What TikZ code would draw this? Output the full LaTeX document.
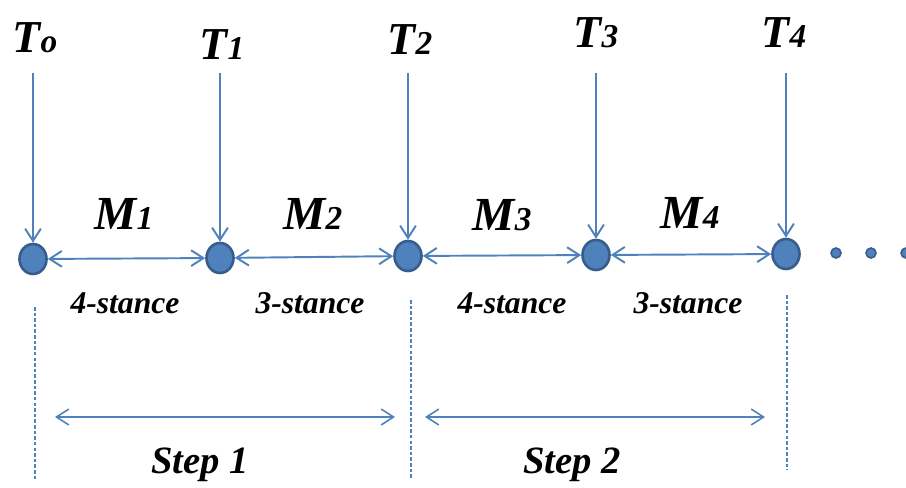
\documentclass[tikz,border=0pt]{standalone}
\usepackage{fontspec}
\setmainfont{Liberation Serif}
\usetikzlibrary{arrows.meta,shapes.geometric}
\definecolor{stblue}{HTML}{4F81BD}
\definecolor{stdark}{HTML}{385D8A}
\newcommand{\idx}[1]{{\fontsize{19}{19}\selectfont #1}}

\begin{document}
\begin{tikzpicture}[x=0.02cm, y=-0.02cm,
    every node/.style={font=\bfseries\itshape},
    tlabel/.style={font=\bfseries\itshape\fontsize{26}{30}\selectfont},
    mlabel/.style={font=\bfseries\itshape\fontsize{27}{30}\selectfont},
    gait/.style={font=\bfseries\itshape\fontsize{18}{20}\selectfont},
    steplabel/.style={font=\bfseries\itshape\fontsize{22}{26}\selectfont},
    joint/.style={ellipse, draw=stdark, line width=1.5pt, fill=stblue, minimum width=0.54cm, minimum height=0.6cm, inner sep=0pt},
    more/.style={circle, draw=stdark, line width=0.9pt, fill=stblue, minimum size=0.2cm, inner sep=0pt},
    drop/.style={stblue, line width=1.1pt, -{Straight Barb[length=7pt,width=9pt]}},
    link/.style={stblue, line width=1.1pt, {Straight Barb[length=7pt,width=9pt]}-{Straight Barb[length=7pt,width=9pt]}},
    span/.style={stblue, line width=0.9pt, {Straight Barb[length=7pt,width=9pt]}-{Straight Barb[length=7pt,width=9pt]}},
    bound/.style={stblue, line width=0.6pt, dash pattern=on 2pt off 1.2pt}]
  \useasboundingbox (0,0) rectangle (906,487);

  \node[joint] (j0) at (33,259) {};
  \node[joint] (j1) at (220,258) {};
  \node[joint] (j2) at (408,256) {};
  \node[joint] (j3) at (596,255) {};
  \node[joint] (j4) at (786,254) {};
  \node[more] (e1) at (836,253) {};
  \node[more] (e2) at (871,253) {};
  \node[more] (e3) at (906,253) {};

  \node[tlabel] (t0) at (35,38) {T\idx{o}};
  \node[tlabel] (t1) at (222,45) {T\idx{1}};
  \node[tlabel] (t2) at (410,40) {T\idx{2}};
  \node[tlabel] (t3) at (596,33) {T\idx{3}};
  \node[tlabel] (t4) at (784,33) {T\idx{4}};
  \coordinate (top) at (0,73);
  \draw[drop] (j0 |- top) -- (j0);
  \draw[drop] (j1 |- top) -- (j1);
  \draw[drop] (j2 |- top) -- (j2);
  \draw[drop] (j3 |- top) -- (j3);
  \draw[drop] (j4 |- top) -- (j4);

  \node[mlabel] (m1) at (124,214) {M\idx{1}};
  \node[mlabel] (m2) at (313,214) {M\idx{2}};
  \node[mlabel] (m3) at (502,215) {M\idx{3}};
  \node[mlabel] (m4) at (690,213) {M\idx{4}};
  \draw[link] (j0) -- (j1);
  \draw[link] (j1) -- (j2);
  \draw[link] (j2) -- (j3);
  \draw[link] (j3) -- (j4);

  \node[gait] (g1) at (125,303) {4-stance};
  \node[gait] (g2) at (310,303) {3-stance};
  \node[gait] (g3) at (512,303) {4-stance};
  \node[gait] (g4) at (688,303) {3-stance};

  \coordinate (b0top) at (35,307);
  \coordinate (b0bot) at (35,480);
  \coordinate (b2top) at (411,300);
  \coordinate (b2bot) at (411,478);
  \coordinate (b4top) at (787,295);
  \coordinate (b4bot) at (787,470);
  \draw[bound] (b0top) -- (b0bot);
  \draw[bound] (b2top) -- (b2bot);
  \draw[bound] (b4top) -- (b4bot);

  \coordinate (s1a) at (55,417);
  \coordinate (s1b) at (395,417);
  \coordinate (s2a) at (425,417);
  \coordinate (s2b) at (765,417);
  \draw[span] (s1a) -- (s1b);
  \draw[span] (s2a) -- (s2b);
  \node[steplabel] (step1) at (200,465) {Step 1};
  \node[steplabel] (step2) at (572,465) {Step 2};
\end{tikzpicture}
\end{document}
